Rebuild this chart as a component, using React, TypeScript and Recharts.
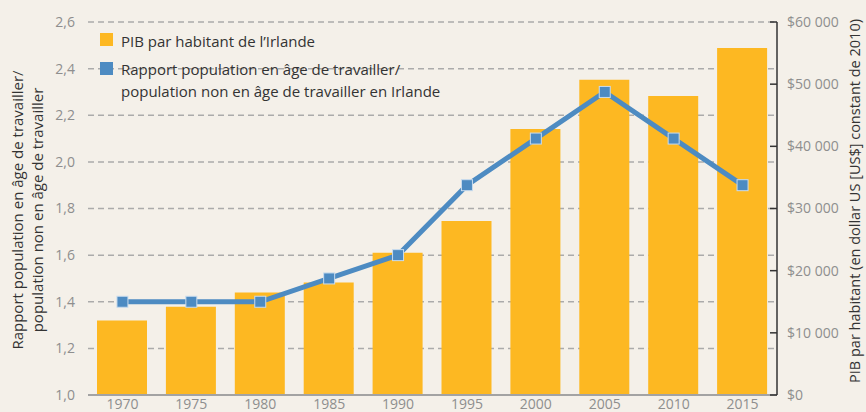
import React from 'react';
import { ComposedChart, Bar, Line, XAxis, YAxis, CartesianGrid, Legend } from 'recharts';

const years = ['1970', '1975', '1980', '1985', '1990', '1995', '2000', '2005', '2010', '2015'];
const gdpPerCapita = [12000, 14200, 16500, 18100, 22900, 28000, 42800, 50700, 48100, 55800];
const workingRatio = [1.4, 1.4, 1.4, 1.5, 1.6, 1.9, 2.1, 2.3, 2.1, 1.9];
const leftTicks = [1.0, 1.2, 1.4, 1.6, 1.8, 2.0, 2.2, 2.4, 2.6];
const rightTicks = [0, 10000, 20000, 30000, 40000, 50000, 60000];
const legendLabels = ["PIB par habitant de l’Irlande", 'Rapport population en âge de travailler/', 'population non en âge de travailler en Irlande'];
const leftTitle = ['Rapport population en âge de travailler/', 'population non en âge de travailler'];
const rightTitle = 'PIB par habitant (en dollar US [US$] constant de 2010)';

const data = years.map((y, i) => ({ year: y, gdp: gdpPerCapita[i], ratio: workingRatio[i] }));

const BG = '#f4f0e9';
const ORANGE = '#fdb822';
const BLUE = '#4d8bc2';
const FONT = '"Open Sans", sans-serif';
const GRAY = '#8e8e8e';

const fmtLeft = (v: number) => v.toFixed(1).replace('.', ',');
const fmtRight = (v: number) => {
  if (v === 0) return '$0';
  const th = Math.floor(v / 1000);
  return '$' + th + ' 000';
};

const RightTick = (props: any) => {
  const { x, y, payload } = props;
  return (
    <g>
      <line x1={x - 11} x2={x - 4} y1={y} y2={y} stroke="#333" strokeWidth={1.5} />
      <text x={x + 6} y={y} dy="0.35em" textAnchor="start" fill={GRAY} fontSize={14} fontFamily={FONT}>
        {fmtRight(payload.value)}
      </text>
    </g>
  );
};

const SquareDot = (props: any) => {
  const { cx, cy, index } = props;
  if (cx == null || cy == null) return null;
  return <rect key={'d' + index} x={cx - 5.5} y={cy - 5.5} width={11} height={11} fill={BLUE} stroke="#c9dcee" strokeWidth={1} />;
};

const renderLegend = () => (
  <div style={{ position: 'relative', width: 360, height: 110, fontFamily: FONT, fontSize: 15, color: '#333', lineHeight: '22px' }}>
    <div style={{ position: 'absolute', left: 0, top: 33, width: 13, height: 13, background: ORANGE }} />
    <div style={{ position: 'absolute', left: 21, top: 30, whiteSpace: 'nowrap' }}>{legendLabels[0]}</div>
    <div style={{ position: 'absolute', left: 0, top: 62, width: 13, height: 13, background: BLUE }} />
    <div style={{ position: 'absolute', left: 21, top: 58, whiteSpace: 'nowrap' }}>
      {legendLabels[1]}
      <br />
      {legendLabels[2]}
    </div>
  </div>
);

export default function App() {
  return (
    <div style={{ position: 'absolute', left: 0, top: 0, width: 866, height: 412, background: BG, overflow: 'hidden' }}>
      <ComposedChart width={866} height={412} data={data} margin={{ top: 22, right: 0, left: 0, bottom: 0 }} barCategoryGap={0}>
        <CartesianGrid yAxisId="left" vertical={false} stroke="#ababab" strokeWidth={1.5} strokeDasharray="6 4" />
        <XAxis
          dataKey="year"
          height={17}
          axisLine={{ stroke: '#a3a3a3', strokeWidth: 2 }}
          tickLine={false}
          tickSize={0}
          tickMargin={4}
          tick={{ fill: GRAY, fontSize: 14, fontFamily: FONT }}
          interval={0}
        />
        <YAxis
          yAxisId="left"
          orientation="left"
          width={88}
          domain={[1.0, 2.6]}
          ticks={leftTicks}
          tickFormatter={fmtLeft}
          axisLine={false}
          tickLine={false}
          tickSize={0}
          tickMargin={13}
          tick={{ fill: GRAY, fontSize: 14, fontFamily: FONT }}
          allowDataOverflow
        />
        <YAxis
          yAxisId="right"
          orientation="right"
          width={89}
          domain={[0, 60000]}
          ticks={rightTicks}
          axisLine={{ stroke: '#333', strokeWidth: 1.5 }}
          tickLine={false}
          tickSize={0}
          tickMargin={4}
          tick={<RightTick />}
          allowDataOverflow
        />
        <Legend
          layout="vertical"
          align="center"
          verticalAlign="middle"
          content={renderLegend}
          wrapperStyle={{ left: 100, top: 0, width: 360, height: 110 }}
        />
        <Bar yAxisId="right" dataKey="gdp" fill={ORANGE} barSize={50} isAnimationActive={false} />
        <Line
          yAxisId="left"
          dataKey="ratio"
          stroke={BLUE}
          strokeWidth={5}
          dot={<SquareDot />}
          activeDot={false}
          isAnimationActive={false}
        />
        <text transform="translate(23,210) rotate(-90)" textAnchor="middle" fontSize={15} fontFamily={FONT} fill="#333">
          {leftTitle[0]}
        </text>
        <text transform="translate(43,210) rotate(-90)" textAnchor="middle" fontSize={15} fontFamily={FONT} fill="#333">
          {leftTitle[1]}
        </text>
        <text transform="translate(860,201) rotate(-90)" textAnchor="middle" fontSize={14.5} fontFamily={FONT} fill="#333">
          {rightTitle}
        </text>
      </ComposedChart>
    </div>
  );
}
